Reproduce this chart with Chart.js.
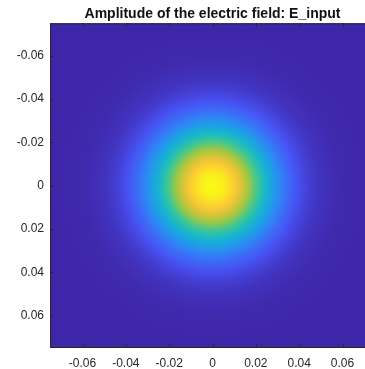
<!DOCTYPE html>
<html>
<head>
<meta charset="utf-8">
<script src="https://cdn.jsdelivr.net/npm/chart.js@4/dist/chart.umd.min.js"></script>
<style>
  html, body { margin: 0; padding: 0; background: #fff; overflow: hidden; }
</style>
</head>
<body>
<canvas id="field" width="380" height="369"></canvas>
<script>
const TITLE = 'Amplitude of the electric field: E_input';
const X_TICKS = [-0.06, -0.04, -0.02, 0, 0.02, 0.04, 0.06];
const Y_TICKS = [-0.06, -0.04, -0.02, 0, 0.02, 0.04, 0.06];
const AXIS_MIN = -0.075;
const AXIS_MAX = 0.075;

// beam centre and radial amplitude profile |E| (normalised) of E_input
const BEAM_CENTER = [{ x: 0, y: 0 }];
const PROFILE_R = [0, 0.0025, 0.005, 0.0075, 0.01, 0.0125, 0.015, 0.0175, 0.02, 0.0225,
                   0.025, 0.0275, 0.03, 0.0325, 0.035, 0.0375, 0.04, 0.045, 0.05, 0.06, 0.075];
const PROFILE_AMP = [1.00, 0.99, 0.97, 0.93, 0.88, 0.82, 0.75, 0.68, 0.60, 0.52,
                     0.45, 0.38, 0.32, 0.26, 0.21, 0.17, 0.13, 0.075, 0.04, 0.01, 0];

// parula colormap anchors (0 -> 1)
const PARULA = [
  [62, 38, 168], [72, 82, 244], [46, 135, 247], [18, 177, 214],
  [55, 200, 151], [171, 199, 57], [254, 195, 56], [249, 251, 21]
];

function parula(t) {
  t = Math.min(1, Math.max(0, t));
  const p = t * (PARULA.length - 1);
  const i = Math.min(PARULA.length - 2, Math.floor(p));
  const f = p - i;
  const a = PARULA[i], b = PARULA[i + 1];
  const c = a.map((v, k) => Math.round(v + (b[k] - v) * f));
  return `rgb(${c[0]},${c[1]},${c[2]})`;
}

function beamRadius(ctx) {
  const area = ctx.chart.chartArea;
  if (!area) return 0;
  const { x, y } = ctx.chart.scales;
  const cx = x.getPixelForValue(BEAM_CENTER[0].x), cy = y.getPixelForValue(BEAM_CENTER[0].y);
  const dx = Math.max(cx - area.left, area.right - cx);
  const dy = Math.max(cy - area.top, area.bottom - cy);
  return Math.hypot(dx, dy) + 2;
}

function beamFill(ctx) {
  const chart = ctx.chart;
  if (!chart.chartArea) return parula(0);
  const { x, y } = chart.scales;
  const cx = x.getPixelForValue(BEAM_CENTER[0].x), cy = y.getPixelForValue(BEAM_CENTER[0].y);
  const pxPerUnit = Math.abs(x.getPixelForValue(0.01) - x.getPixelForValue(0)) / 0.01;
  const R = beamRadius(ctx);
  const g = chart.ctx.createRadialGradient(cx, cy, 0, cx, cy, R);
  PROFILE_R.forEach((r, i) => {
    g.addColorStop(Math.min(1, r * pxPerUnit / R), parula(PROFILE_AMP[i]));
  });
  g.addColorStop(1, parula(0));
  return g;
}

// MATLAB-style box with inward tick marks on every side
const axesBox = {
  id: 'axesBox',
  afterDatasetsDraw(chart) {
    const { ctx, chartArea: a, scales } = chart;
    const len = 3.5;
    ctx.save();
    ctx.strokeStyle = '#262626';
    ctx.lineWidth = 1;
    ctx.strokeRect(a.left + 0.5, a.top + 0.5, a.right - a.left - 1, a.bottom - a.top - 1);
    ctx.beginPath();
    X_TICKS.forEach(v => {
      const px = Math.round(scales.x.getPixelForValue(v)) + 0.5;
      ctx.moveTo(px, a.top); ctx.lineTo(px, a.top + len);
      ctx.moveTo(px, a.bottom); ctx.lineTo(px, a.bottom - len);
    });
    Y_TICKS.forEach(v => {
      const py = Math.round(scales.y.getPixelForValue(v)) + 0.5;
      ctx.moveTo(a.left, py); ctx.lineTo(a.left + len, py);
      ctx.moveTo(a.right, py); ctx.lineTo(a.right - len, py);
    });
    ctx.stroke();
    ctx.restore();
  }
};

const tickFont = { family: '"Liberation Sans", Arial, sans-serif', size: 12 };
const fmt = v => String(+v.toFixed(2));

new Chart(document.getElementById('field'), {
  type: 'scatter',
  data: {
    datasets: [{
      label: 'E_input',
      data: BEAM_CENTER,
      pointStyle: 'circle',
      radius: beamRadius,
      backgroundColor: beamFill,
      borderWidth: 0,
      clip: 0
    }]
  },
  options: {
    responsive: false,
    animation: false,
    events: [],
    layout: { padding: { left: 0, right: 5, top: 0, bottom: 0 } },
    plugins: {
      legend: { display: false },
      tooltip: { enabled: false },
      title: {
        display: true,
        fullSize: false,
        text: TITLE,
        color: '#111',
        font: { family: '"Liberation Sans", Arial, sans-serif', size: 14, weight: 'bold' },
        padding: { top: 5.5, bottom: 1 }
      }
    },
    scales: {
      x: {
        type: 'linear',
        min: AXIS_MIN,
        max: AXIS_MAX,
        afterBuildTicks: s => { s.ticks = X_TICKS.map(v => ({ value: v })); },
        afterFit: s => { s.height = 21; },
        grid: { display: false, drawTicks: false },
        border: { display: false },
        ticks: { color: '#262626', font: tickFont, padding: 8, maxRotation: 0, callback: fmt }
      },
      y: {
        type: 'linear',
        reverse: true,
        min: AXIS_MIN,
        max: AXIS_MAX,
        afterBuildTicks: s => { s.ticks = Y_TICKS.map(v => ({ value: v })); },
        afterFit: s => { s.width = 50; },
        grid: { display: false, drawTicks: false },
        border: { display: false },
        ticks: { color: '#262626', font: tickFont, padding: 6, callback: fmt }
      }
    }
  },
  plugins: [axesBox]
});
</script>
</body>
</html>
